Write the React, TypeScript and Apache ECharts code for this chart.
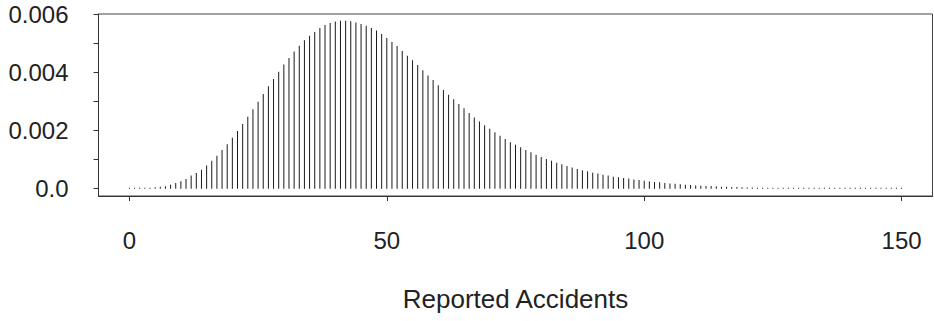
import React, { useEffect, useRef } from "react";
import * as echarts from "echarts";

// Probability of each number of reported accidents (0..150)
const probabilities: number[] = [
  0.000005, 0.000008, 0.000012, 0.000018, 0.000035, 0.000048, 0.000068, 0.000085, 0.00014, 0.0002,
  0.00026, 0.00033, 0.00045, 0.00054, 0.00065, 0.0008, 0.00096, 0.00113, 0.00133, 0.00153,
  0.00175, 0.00198, 0.00222, 0.00247, 0.00273, 0.00299, 0.00325, 0.00352, 0.00377, 0.00402,
  0.00427, 0.00449, 0.00471, 0.00491, 0.0051, 0.00525, 0.00538, 0.00552, 0.00562, 0.00569,
  0.00574, 0.00577, 0.00577, 0.00575, 0.00571, 0.00566, 0.0056, 0.00552, 0.00543, 0.00531,
  0.00518, 0.00504, 0.0049, 0.00473, 0.00457, 0.00441, 0.00425, 0.00407, 0.00389, 0.00373,
  0.00355, 0.00339, 0.00323, 0.00307, 0.00291, 0.00276, 0.0026, 0.00245, 0.00231, 0.00218,
  0.00206, 0.00194, 0.00182, 0.00171, 0.0016, 0.00151, 0.00142, 0.00133, 0.00125, 0.00117,
  0.00109, 0.00102, 0.00096, 0.00089, 0.00084, 0.00078, 0.00073, 0.00068, 0.00063, 0.0006,
  0.00055, 0.00052, 0.00048, 0.00045, 0.00041, 0.00039, 0.00037, 0.00035, 0.00032, 0.0003,
  0.00027, 0.00025, 0.00023, 0.00022, 0.0002, 0.00018, 0.00017, 0.00015, 0.00014, 0.00013,
  0.00011, 0.0001, 0.000095, 0.00009, 0.000082, 0.00007, 0.000065, 0.000058, 0.000055, 0.000048,
  0.000045, 0.000038, 0.000035, 0.000031, 0.000027, 0.000025, 0.000023, 0.000021, 0.000019, 0.000017,
  0.000016, 0.000014, 0.000013, 0.000012, 0.000011, 0.00001, 0.000009, 0.000008, 0.000007, 0.000007,
  0.000006, 0.000005, 0.000005, 0.000004, 0.000004, 0.000004, 0.000003, 0.000003, 0.000003, 0.000002,
  0.000002,
];

const xTicks: number[] = [0, 50, 100, 150];
const yTicks: number[] = [0, 0.001, 0.002, 0.003, 0.004, 0.005, 0.006];
const yLabels: number[] = [0, 0.002, 0.004, 0.006];
const xTitle = "Reported Accidents";

const FONT = "'Liberation Sans', Arial, Helvetica, sans-serif";
const INK = "#222";

export default function App() {
  const ref = useRef<HTMLDivElement>(null);

  useEffect(() => {
    if (!ref.current) return;
    const chart = echarts.init(ref.current, undefined, { renderer: "svg" });
    const data = probabilities.map((p, i) => [i, p]);
    chart.setOption({
      animation: false,
      backgroundColor: "#fff",
      grid: {
        left: 98.5,
        right: 1.5,
        top: 14,
        bottom: 125,
        show: true,
        borderColor: "#444",
        borderWidth: 1,
        backgroundColor: "transparent",
      },
      xAxis: {
        type: "value",
        min: -6,
        max: 156,
        splitLine: { show: false },
        axisLine: { show: true, onZero: false, lineStyle: { color: "#333", width: 1 } },
        axisTick: {
          show: true,
          length: 5,
          customValues: xTicks,
          lineStyle: { color: "#333" },
        },
        axisLabel: {
          customValues: xTicks,
          margin: 32,
          fontSize: 24,
          fontFamily: FONT,
          color: INK,
        },
        name: xTitle,
        nameLocation: "middle",
        nameGap: 90,
        nameTextStyle: { fontSize: 26, fontFamily: FONT, color: INK },
      },
      yAxis: {
        type: "value",
        min: -0.00025,
        max: 0.006,
        splitLine: { show: false },
        axisLine: { show: true, onZero: false, lineStyle: { color: "#333", width: 1 } },
        axisTick: {
          show: true,
          length: 5,
          customValues: yTicks,
          lineStyle: { color: "#333" },
        },
        axisLabel: {
          customValues: yLabels,
          margin: 30,
          fontSize: 24,
          fontFamily: FONT,
          color: INK,
          formatter: (v: number) => (v === 0 ? "0.0" : v.toFixed(3)),
        },
      },
      series: [
        {
          type: "bar",
          data,
          barWidth: 1,
          barMinHeight: 1,
          itemStyle: { color: "#1a1a1a" },
          emphasis: { disabled: true },
          silent: true,
        },
      ],
    });
    return () => chart.dispose();
  }, []);

  return (
    <div
      ref={ref}
      style={{ position: "fixed", left: 0, top: 0, width: 934, height: 321, background: "#fff" }}
    />
  );
}
